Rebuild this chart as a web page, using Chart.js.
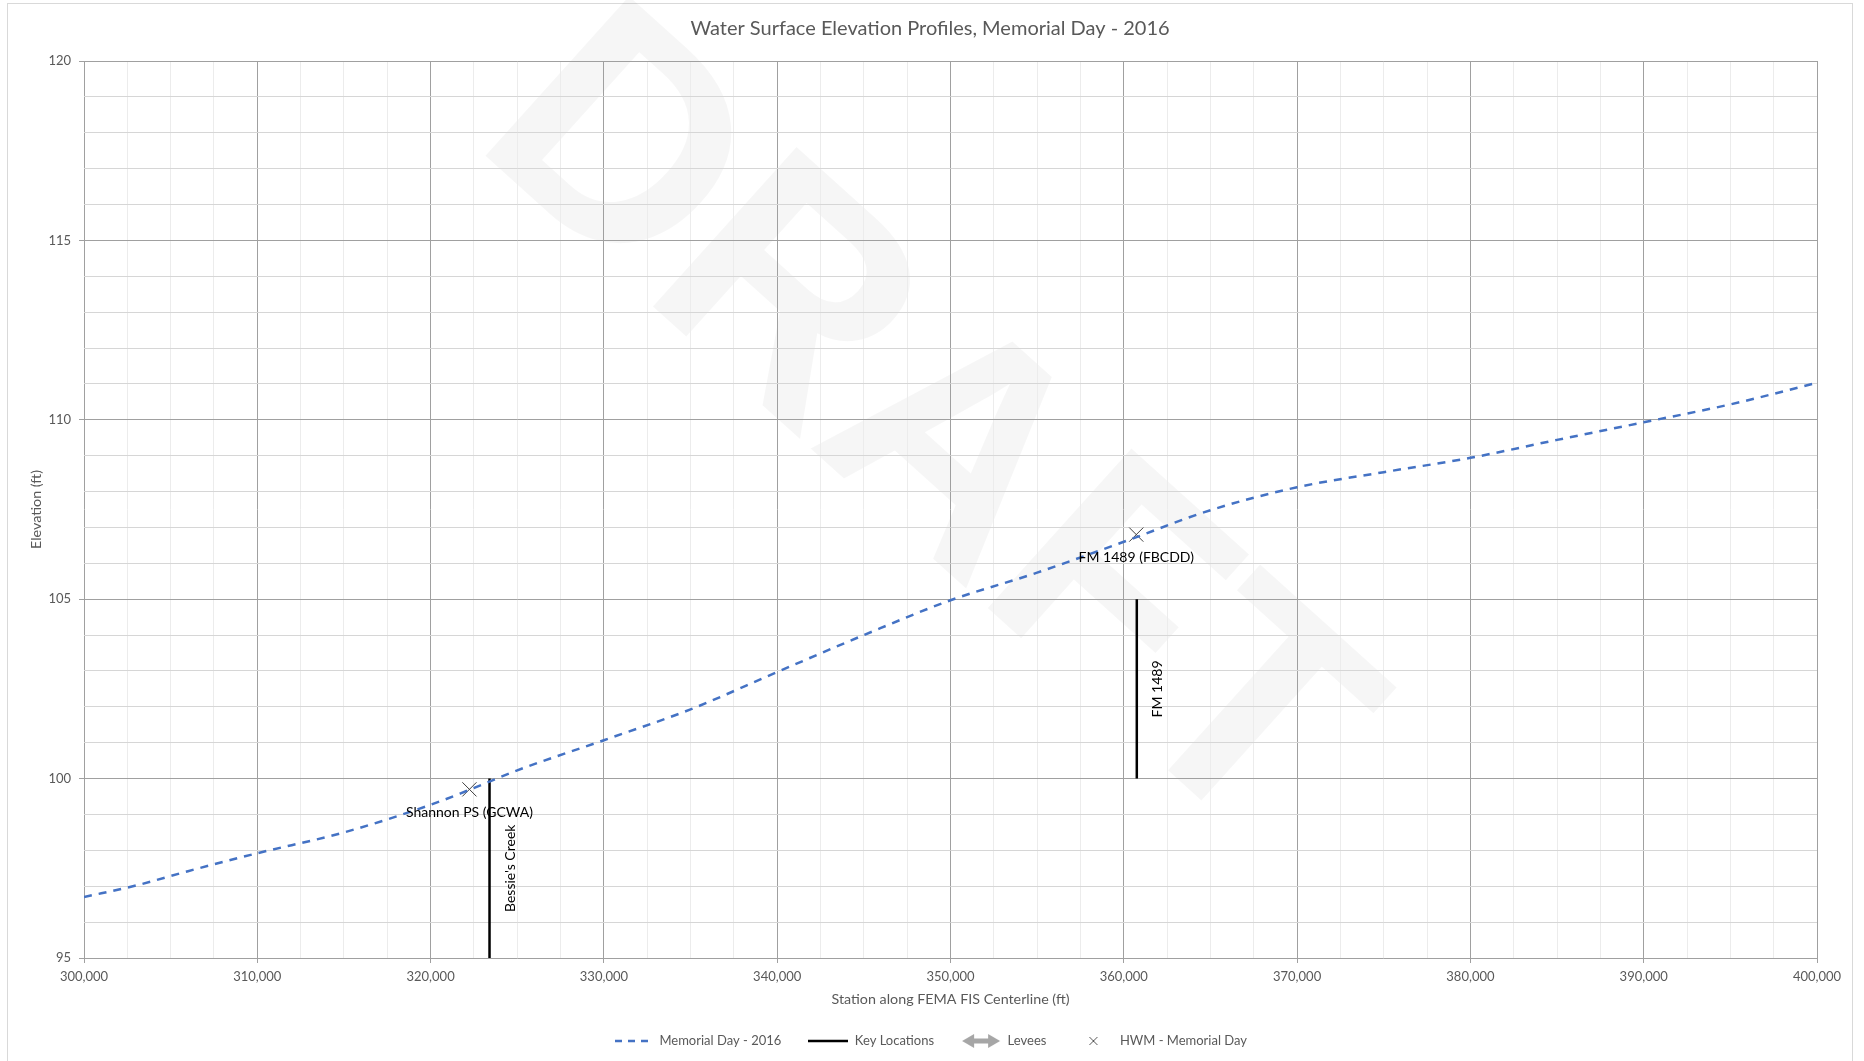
<!DOCTYPE html>
<html lang="en">

<head>
    <meta charset="UTF-8">
    <title>Water Surface Elevation Profiles</title>
    <style>
        html,
        body {
            margin: 0;
            padding: 0;
            background: #fff;
        }

        #wrap {
            width: 1864px;
            height: 1061px;
        }
    </style>
    <script src="https://cdn.jsdelivr.net/npm/chart.js"></script>
</head>

<body>
    <div id="wrap">
        <canvas id="chart" width="1864" height="1061"></canvas>
    </div>

    <script>
        // water surface profile, Memorial Day 2016
        const stations = [300000, 303000, 306000, 310000, 315000, 320000, 322000, 325000, 330000, 335000,
            340000, 345000, 350000, 355000, 360000, 365000, 370000, 375000, 380000, 385000,
            390000, 395000, 400000];
        const elevations = [96.7, 97.02, 97.42, 97.92, 98.5, 99.27, 99.64, 100.23, 101.07, 101.93,
            102.97, 104.0, 104.97, 105.74, 106.6, 107.48, 108.12, 108.54, 108.94, 109.44,
            109.93, 110.43, 111.03];

        // key locations (vertical bars)
        const keyNames = ["Bessie's Creek", "FM 1489"];
        const keyStations = [323400, 360750];
        const keyBottom = [95, 100];
        const keyTop = [100, 105];

        // high water marks
        const hwmNames = ["Shannon PS (GCWA)", "FM 1489 (FBCDD)"];
        const hwmStations = [322240, 360720];
        const hwmElev = [99.7, 106.8];

        const legendNames = ["Memorial Day - 2016", "Key Locations", "Levees", "HWM - Memorial Day"];

        const FONT = 'Lato';
        const GREY = '#595959';

        // little canvases used as legend symbols
        function icon(draw) {
            const c = document.createElement('canvas');
            c.width = 40;
            c.height = 14;
            draw(c.getContext('2d'));
            return c;
        }
        const icons = [
            icon(g => {
                g.strokeStyle = '#4472c4';
                g.lineWidth = 2.5;
                g.setLineDash([7, 6]);
                g.beginPath(); g.moveTo(2, 7); g.lineTo(40, 7); g.stroke();
            }),
            icon(g => {
                g.strokeStyle = '#000';
                g.lineWidth = 2.5;
                g.beginPath(); g.moveTo(0, 7); g.lineTo(40, 7); g.stroke();
            }),
            icon(g => {
                g.fillStyle = '#a6a6a6';
                g.beginPath();
                g.moveTo(1, 7); g.lineTo(13, 0); g.lineTo(13, 4.5); g.lineTo(27, 4.5); g.lineTo(27, 0);
                g.lineTo(39, 7); g.lineTo(27, 14); g.lineTo(27, 9.5); g.lineTo(13, 9.5); g.lineTo(13, 14);
                g.closePath(); g.fill();
            }),
            icon(g => {
                g.strokeStyle = '#595959';
                g.lineWidth = 1;
                g.beginPath();
                g.moveTo(16, 3); g.lineTo(24, 11); g.moveTo(24, 3); g.lineTo(16, 11);
                g.stroke();
            })
        ];

        // background, frame and the DRAFT watermark
        const backdrop = {
            id: 'backdrop',
            beforeDraw(chart) {
                const ctx = chart.ctx;
                ctx.save();
                ctx.fillStyle = '#fff';
                ctx.fillRect(0, 0, chart.width, chart.height);
                ctx.strokeStyle = '#d9d9d9';
                ctx.lineWidth = 1;
                ctx.strokeRect(7.5, 3.5, 1845, 1070);
                ctx.translate(937, 413);
                ctx.rotate(42 * Math.PI / 180);
                ctx.font = 'bold 312px "Liberation Sans"';
                ctx.fillStyle = 'rgba(0,0,0,0.035)';
                ctx.textAlign = 'center';
                ctx.textBaseline = 'alphabetic';
                ctx.fillText('DRAFT', 0, 111);
                ctx.restore();
            }
        };

        // text labels next to the markers and key location bars
        const notes = {
            id: 'notes',
            afterDatasetsDraw(chart) {
                const ctx = chart.ctx;
                const x = chart.scales.x, y = chart.scales.y;
                ctx.save();
                ctx.font = '14px ' + FONT;
                ctx.fillStyle = '#000';
                ctx.textAlign = 'center';
                ctx.textBaseline = 'middle';
                hwmNames.forEach((n, i) => {
                    ctx.fillText(n, x.getPixelForValue(hwmStations[i]), y.getPixelForValue(hwmElev[i]) + 23);
                });
                keyNames.forEach((n, i) => {
                    const px = x.getPixelForValue(keyStations[i]) + 21;
                    const py = y.getPixelForValue((keyBottom[i] + keyTop[i]) / 2);
                    ctx.save();
                    ctx.translate(px, py);
                    ctx.rotate(-Math.PI / 2);
                    ctx.fillText(n, 0, 0);
                    ctx.restore();
                });
                ctx.restore();
            }
        };

        const keyData = [];
        keyStations.forEach((s, i) => {
            keyData.push({ x: s, y: keyBottom[i] }, { x: s, y: keyTop[i] }, { x: s, y: null });
        });

        window.onload = function () {
            const ctx = document.getElementById('chart').getContext('2d');
            chart = new Chart(ctx, {
                type: 'scatter',
                data: {
                    datasets: [{
                        label: legendNames[0],
                        data: stations.map((s, i) => ({ x: s, y: elevations[i] })),
                        showLine: true,
                        borderColor: '#4472c4',
                        borderWidth: 2.5,
                        borderDash: [8, 7],
                        cubicInterpolationMode: 'monotone',
                        pointRadius: 0
                    }, {
                        label: legendNames[1],
                        data: keyData,
                        showLine: true,
                        spanGaps: false,
                        borderColor: '#000',
                        borderWidth: 2.5,
                        pointRadius: 0
                    }, {
                        label: legendNames[2],
                        data: [],
                        showLine: true,
                        borderColor: '#a6a6a6'
                    }, {
                        label: legendNames[3],
                        data: hwmStations.map((s, i) => ({ x: s, y: hwmElev[i] })),
                        pointStyle: 'crossRot',
                        pointRadius: 10,
                        borderColor: '#404040',
                        borderWidth: 1
                    }]
                },
                options: {
                    responsive: false,
                    animation: false,
                    maintainAspectRatio: false,
                    layout: { padding: { left: 8, right: 12, top: 0, bottom: 3.5 } },
                    plugins: {
                        title: {
                            display: true,
                            text: 'Water Surface Elevation Profiles, Memorial Day - 2016',
                            color: GREY,
                            font: { family: FONT, size: 20, weight: 'normal', lineHeight: 1.2 },
                            padding: { top: 16.5, bottom: 20.5 }
                        },
                        legend: {
                            position: 'bottom',
                            labels: {
                                usePointStyle: true,
                                pointStyleWidth: 40,
                                padding: 27,
                                font: { family: FONT, size: 13 },
                                color: GREY,
                                generateLabels: () => legendNames.map((n, i) => ({
                                    text: n,
                                    pointStyle: icons[i],
                                    fontColor: GREY,
                                    fillStyle: 'transparent',
                                    strokeStyle: 'transparent',
                                    lineWidth: 0,
                                    hidden: false,
                                    datasetIndex: i
                                }))
                            }
                        },
                        tooltip: { enabled: false }
                    },
                    scales: {
                        x: {
                            type: 'linear',
                            min: 300000,
                            max: 400000,
                            afterFit: s => { s.height = 49.5; },
                            border: { display: false },
                            grid: {
                                color: c => c.tick.value % 10000 === 0 ? '#a0a0a0' : '#ececec',
                                tickColor: c => c.tick.value % 10000 === 0 ? '#a0a0a0' : 'rgba(0,0,0,0)',
                                tickLength: 5
                            },
                            ticks: {
                                stepSize: 2500,
                                autoSkip: false,
                                maxRotation: 0,
                                padding: 6,
                                color: GREY,
                                font: { family: FONT, size: 13 },
                                callback: v => v % 10000 === 0 ? v.toLocaleString('en-US') : ''
                            },
                            title: {
                                display: true,
                                text: 'Station along FEMA FIS Centerline (ft)',
                                color: GREY,
                                font: { family: FONT, size: 14.3 },
                                padding: { top: 0, bottom: 0 }
                            }
                        },
                        y: {
                            min: 95,
                            max: 120,
                            afterFit: s => { s.width = 76; },
                            border: { display: false },
                            grid: {
                                color: c => c.tick.value % 5 === 0 ? '#a0a0a0' : '#d6d6d6',
                                tickColor: c => c.tick.value % 5 === 0 ? '#a0a0a0' : 'rgba(0,0,0,0)',
                                tickLength: 5
                            },
                            ticks: {
                                stepSize: 1,
                                autoSkip: false,
                                padding: 8,
                                color: GREY,
                                font: { family: FONT, size: 13 },
                                callback: v => v % 5 === 0 ? v : ''
                            },
                            title: {
                                display: true,
                                text: 'Elevation (ft)',
                                color: GREY,
                                font: { family: FONT, size: 14.3 },
                                padding: { top: 19.5, bottom: 0 }
                            }
                        },
                        // spacer so the plot stops where the reference does
                        y2: {
                            position: 'right',
                            afterFit: s => { s.width = 35; },
                            border: { display: false },
                            grid: { display: false },
                            ticks: { display: false }
                        }
                    }
                },
                plugins: [backdrop, notes]
            });
        };
    </script>
</body>

</html>
